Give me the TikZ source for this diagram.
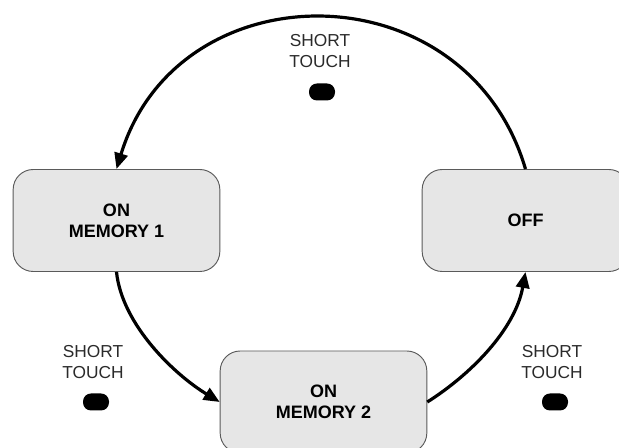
\documentclass[tikz,border=0pt]{standalone}
\usepackage{fontspec}
\setmainfont{Liberation Sans}
\usetikzlibrary{arrows.meta}
\definecolor{boxfill}{HTML}{E6E6E6}
\definecolor{boxline}{HTML}{5A5A5A}
\definecolor{labeltext}{HTML}{2A2A2A}
\begin{document}
\begin{tikzpicture}[x=0.75pt,y=0.75pt,yscale=-1,
  state/.style={draw=boxline, fill=boxfill, line width=0.7pt, rounded corners=15pt,
    minimum width=155pt, minimum height=76.5pt, align=center,
    font=\fontsize{13.5}{16}\selectfont\bfseries},
  touch/.style={align=center, text=labeltext, font=\fontsize{13}{16}\selectfont},
  blob/.style={fill=black, rounded corners=6pt, minimum width=19.5pt, minimum height=12.75pt, inner sep=0pt},
  flow/.style={line width=2.4pt, -{Triangle[length=12pt, width=10pt]}}]
\useasboundingbox (0,0) rectangle (619,448);
\clip (0,0) rectangle (619,448);

%States
\node[state] (m1) at (116.5,220.5) {ON\\MEMORY 1};
\node[state] (off) at (525.5,220.5) {OFF};
\node[state] (m2) at (323.5,402) {ON\\MEMORY 2};

%Short touch labels
\node[touch] (ttop) at (320,51) {SHORT\\TOUCH};
\node[blob] (btop) at (322,92) {};
\node[touch] (tleft) at (93,362) {SHORT\\TOUCH};
\node[blob] (bleft) at (96,402) {};
\node[touch] (tright) at (552,362) {SHORT\\TOUCH};
\node[blob] (bright) at (555,402) {};

%Transitions
\draw[flow] (off.north) .. controls (466,-32.5) and (178,-32.5) .. (m1.north);
\draw[flow] (m1.south) .. controls (122,325) and (175,375) .. (m2.west);
\draw[flow] (m2.east) .. controls (470,375) and (515,330) .. (off.south);

\end{tikzpicture}
\end{document}
